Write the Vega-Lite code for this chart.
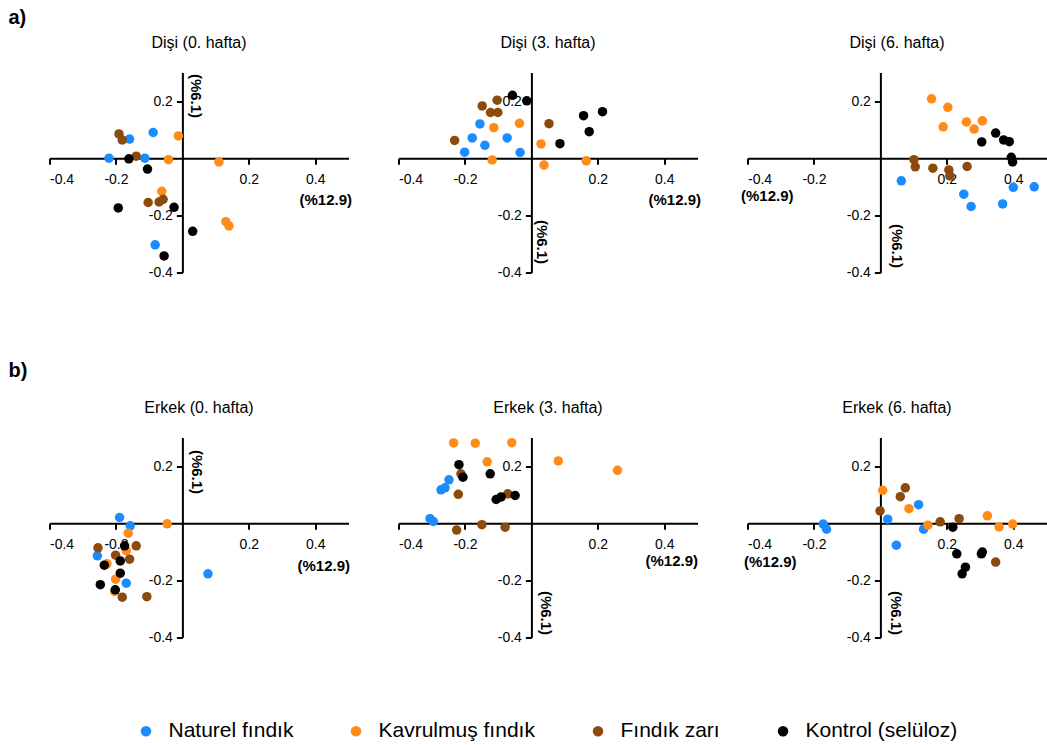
{
  "$schema": "https://vega.github.io/schema/vega-lite/v6.json",
  "padding": {"left": 8.5, "top": 7.5, "right": 0, "bottom": 0},
  "bounds": "flush",
  "spacing": 365,
  "datasets": {
    "pca": [
      {"panel": "Dişi (0. hafta)", "group": "Naturel fındık", "pc1": -0.221, "pc2": 0.0},
      {"panel": "Dişi (0. hafta)", "group": "Naturel fındık", "pc1": -0.159, "pc2": 0.067},
      {"panel": "Dişi (0. hafta)", "group": "Naturel fındık", "pc1": -0.088, "pc2": 0.09},
      {"panel": "Dişi (0. hafta)", "group": "Naturel fındık", "pc1": -0.113, "pc2": 0.0},
      {"panel": "Dişi (0. hafta)", "group": "Naturel fındık", "pc1": -0.082, "pc2": -0.303},
      {"panel": "Dişi (0. hafta)", "group": "Kavrulmuş fındık", "pc1": -0.012, "pc2": 0.078},
      {"panel": "Dişi (0. hafta)", "group": "Kavrulmuş fındık", "pc1": -0.042, "pc2": -0.005},
      {"panel": "Dişi (0. hafta)", "group": "Kavrulmuş fındık", "pc1": 0.11, "pc2": -0.013},
      {"panel": "Dişi (0. hafta)", "group": "Kavrulmuş fındık", "pc1": -0.062, "pc2": -0.116},
      {"panel": "Dişi (0. hafta)", "group": "Kavrulmuş fındık", "pc1": 0.131, "pc2": -0.222},
      {"panel": "Dişi (0. hafta)", "group": "Kavrulmuş fındık", "pc1": 0.14, "pc2": -0.237},
      {"panel": "Dişi (0. hafta)", "group": "Fındık zarı", "pc1": -0.191, "pc2": 0.085},
      {"panel": "Dişi (0. hafta)", "group": "Fındık zarı", "pc1": -0.181, "pc2": 0.064},
      {"panel": "Dişi (0. hafta)", "group": "Fındık zarı", "pc1": -0.139, "pc2": 0.007},
      {"panel": "Dişi (0. hafta)", "group": "Fındık zarı", "pc1": -0.103, "pc2": -0.155},
      {"panel": "Dişi (0. hafta)", "group": "Fındık zarı", "pc1": -0.07, "pc2": -0.153},
      {"panel": "Dişi (0. hafta)", "group": "Fındık zarı", "pc1": -0.058, "pc2": -0.144},
      {"panel": "Dişi (0. hafta)", "group": "Kontrol (selüloz)", "pc1": -0.161, "pc2": -0.002},
      {"panel": "Dişi (0. hafta)", "group": "Kontrol (selüloz)", "pc1": -0.105, "pc2": -0.038},
      {"panel": "Dişi (0. hafta)", "group": "Kontrol (selüloz)", "pc1": -0.193, "pc2": -0.174},
      {"panel": "Dişi (0. hafta)", "group": "Kontrol (selüloz)", "pc1": -0.025, "pc2": -0.172},
      {"panel": "Dişi (0. hafta)", "group": "Kontrol (selüloz)", "pc1": 0.031, "pc2": -0.256},
      {"panel": "Dişi (0. hafta)", "group": "Kontrol (selüloz)", "pc1": -0.055, "pc2": -0.342},

      {"panel": "Dişi (3. hafta)", "group": "Naturel fındık", "pc1": -0.201, "pc2": 0.021},
      {"panel": "Dişi (3. hafta)", "group": "Naturel fındık", "pc1": -0.178, "pc2": 0.071},
      {"panel": "Dişi (3. hafta)", "group": "Naturel fındık", "pc1": -0.155, "pc2": 0.12},
      {"panel": "Dişi (3. hafta)", "group": "Naturel fındık", "pc1": -0.14, "pc2": 0.045},
      {"panel": "Dişi (3. hafta)", "group": "Naturel fındık", "pc1": -0.073, "pc2": 0.071},
      {"panel": "Dişi (3. hafta)", "group": "Naturel fındık", "pc1": -0.034, "pc2": 0.02},
      {"panel": "Dişi (3. hafta)", "group": "Kavrulmuş fındık", "pc1": -0.113, "pc2": 0.107},
      {"panel": "Dişi (3. hafta)", "group": "Kavrulmuş fındık", "pc1": -0.118, "pc2": -0.006},
      {"panel": "Dişi (3. hafta)", "group": "Kavrulmuş fındık", "pc1": -0.036, "pc2": 0.122},
      {"panel": "Dişi (3. hafta)", "group": "Kavrulmuş fındık", "pc1": 0.029, "pc2": 0.05},
      {"panel": "Dişi (3. hafta)", "group": "Kavrulmuş fındık", "pc1": 0.038, "pc2": -0.024},
      {"panel": "Dişi (3. hafta)", "group": "Kavrulmuş fındık", "pc1": 0.165, "pc2": -0.009},
      {"panel": "Dişi (3. hafta)", "group": "Fındık zarı", "pc1": -0.231, "pc2": 0.062},
      {"panel": "Dişi (3. hafta)", "group": "Fındık zarı", "pc1": -0.148, "pc2": 0.183},
      {"panel": "Dişi (3. hafta)", "group": "Fındık zarı", "pc1": -0.123, "pc2": 0.16},
      {"panel": "Dişi (3. hafta)", "group": "Fındık zarı", "pc1": -0.101, "pc2": 0.16},
      {"panel": "Dişi (3. hafta)", "group": "Fındık zarı", "pc1": -0.103, "pc2": 0.203},
      {"panel": "Dişi (3. hafta)", "group": "Fındık zarı", "pc1": 0.053, "pc2": 0.121},
      {"panel": "Dişi (3. hafta)", "group": "Kontrol (selüloz)", "pc1": -0.057, "pc2": 0.22},
      {"panel": "Dişi (3. hafta)", "group": "Kontrol (selüloz)", "pc1": -0.014, "pc2": 0.201},
      {"panel": "Dişi (3. hafta)", "group": "Kontrol (selüloz)", "pc1": 0.086, "pc2": 0.051},
      {"panel": "Dişi (3. hafta)", "group": "Kontrol (selüloz)", "pc1": 0.157, "pc2": 0.149},
      {"panel": "Dişi (3. hafta)", "group": "Kontrol (selüloz)", "pc1": 0.174, "pc2": 0.093},
      {"panel": "Dişi (3. hafta)", "group": "Kontrol (selüloz)", "pc1": 0.214, "pc2": 0.163},

      {"panel": "Dişi (6. hafta)", "group": "Naturel fındık", "pc1": 0.063, "pc2": -0.079},
      {"panel": "Dişi (6. hafta)", "group": "Naturel fındık", "pc1": 0.251, "pc2": -0.126},
      {"panel": "Dişi (6. hafta)", "group": "Naturel fındık", "pc1": 0.273, "pc2": -0.169},
      {"panel": "Dişi (6. hafta)", "group": "Naturel fındık", "pc1": 0.368, "pc2": -0.16},
      {"panel": "Dişi (6. hafta)", "group": "Naturel fındık", "pc1": 0.4, "pc2": -0.102},
      {"panel": "Dişi (6. hafta)", "group": "Naturel fındık", "pc1": 0.463, "pc2": -0.1},
      {"panel": "Dişi (6. hafta)", "group": "Kavrulmuş fındık", "pc1": 0.154, "pc2": 0.208},
      {"panel": "Dişi (6. hafta)", "group": "Kavrulmuş fındık", "pc1": 0.203, "pc2": 0.178},
      {"panel": "Dişi (6. hafta)", "group": "Kavrulmuş fındık", "pc1": 0.189, "pc2": 0.11},
      {"panel": "Dişi (6. hafta)", "group": "Kavrulmuş fındık", "pc1": 0.259, "pc2": 0.127},
      {"panel": "Dişi (6. hafta)", "group": "Kavrulmuş fındık", "pc1": 0.282, "pc2": 0.102},
      {"panel": "Dişi (6. hafta)", "group": "Kavrulmuş fındık", "pc1": 0.307, "pc2": 0.131},
      {"panel": "Dişi (6. hafta)", "group": "Fındık zarı", "pc1": 0.101, "pc2": -0.005},
      {"panel": "Dişi (6. hafta)", "group": "Fındık zarı", "pc1": 0.105, "pc2": -0.03},
      {"panel": "Dişi (6. hafta)", "group": "Fındık zarı", "pc1": 0.158, "pc2": -0.035},
      {"panel": "Dişi (6. hafta)", "group": "Fındık zarı", "pc1": 0.206, "pc2": -0.041},
      {"panel": "Dişi (6. hafta)", "group": "Fındık zarı", "pc1": 0.209, "pc2": -0.062},
      {"panel": "Dişi (6. hafta)", "group": "Fındık zarı", "pc1": 0.261, "pc2": -0.029},
      {"panel": "Dişi (6. hafta)", "group": "Kontrol (selüloz)", "pc1": 0.305, "pc2": 0.057},
      {"panel": "Dişi (6. hafta)", "group": "Kontrol (selüloz)", "pc1": 0.347, "pc2": 0.088},
      {"panel": "Dişi (6. hafta)", "group": "Kontrol (selüloz)", "pc1": 0.371, "pc2": 0.064},
      {"panel": "Dişi (6. hafta)", "group": "Kontrol (selüloz)", "pc1": 0.388, "pc2": 0.058},
      {"panel": "Dişi (6. hafta)", "group": "Kontrol (selüloz)", "pc1": 0.394, "pc2": 0.003},
      {"panel": "Dişi (6. hafta)", "group": "Kontrol (selüloz)", "pc1": 0.398, "pc2": -0.013},

      {"panel": "Erkek (0. hafta)", "group": "Naturel fındık", "pc1": -0.189, "pc2": 0.02},
      {"panel": "Erkek (0. hafta)", "group": "Naturel fındık", "pc1": -0.157, "pc2": -0.009},
      {"panel": "Erkek (0. hafta)", "group": "Naturel fındık", "pc1": -0.256, "pc2": -0.114},
      {"panel": "Erkek (0. hafta)", "group": "Naturel fındık", "pc1": -0.169, "pc2": -0.21},
      {"panel": "Erkek (0. hafta)", "group": "Naturel fındık", "pc1": 0.077, "pc2": -0.177},
      {"panel": "Erkek (0. hafta)", "group": "Kavrulmuş fındık", "pc1": -0.046, "pc2": -0.002},
      {"panel": "Erkek (0. hafta)", "group": "Kavrulmuş fındık", "pc1": -0.163, "pc2": -0.035},
      {"panel": "Erkek (0. hafta)", "group": "Kavrulmuş fındık", "pc1": -0.169, "pc2": -0.096},
      {"panel": "Erkek (0. hafta)", "group": "Kavrulmuş fındık", "pc1": -0.227, "pc2": -0.142},
      {"panel": "Erkek (0. hafta)", "group": "Kavrulmuş fındık", "pc1": -0.201, "pc2": -0.196},
      {"panel": "Erkek (0. hafta)", "group": "Kavrulmuş fındık", "pc1": -0.204, "pc2": -0.239},
      {"panel": "Erkek (0. hafta)", "group": "Fındık zarı", "pc1": -0.254, "pc2": -0.086},
      {"panel": "Erkek (0. hafta)", "group": "Fındık zarı", "pc1": -0.139, "pc2": -0.079},
      {"panel": "Erkek (0. hafta)", "group": "Fındık zarı", "pc1": -0.201, "pc2": -0.112},
      {"panel": "Erkek (0. hafta)", "group": "Fındık zarı", "pc1": -0.159, "pc2": -0.126},
      {"panel": "Erkek (0. hafta)", "group": "Fındık zarı", "pc1": -0.181, "pc2": -0.259},
      {"panel": "Erkek (0. hafta)", "group": "Fındık zarı", "pc1": -0.107, "pc2": -0.257},
      {"panel": "Erkek (0. hafta)", "group": "Kontrol (selüloz)", "pc1": -0.174, "pc2": -0.079},
      {"panel": "Erkek (0. hafta)", "group": "Kontrol (selüloz)", "pc1": -0.187, "pc2": -0.132},
      {"panel": "Erkek (0. hafta)", "group": "Kontrol (selüloz)", "pc1": -0.235, "pc2": -0.147},
      {"panel": "Erkek (0. hafta)", "group": "Kontrol (selüloz)", "pc1": -0.187, "pc2": -0.175},
      {"panel": "Erkek (0. hafta)", "group": "Kontrol (selüloz)", "pc1": -0.247, "pc2": -0.215},
      {"panel": "Erkek (0. hafta)", "group": "Kontrol (selüloz)", "pc1": -0.202, "pc2": -0.233},

      {"panel": "Erkek (3. hafta)", "group": "Naturel fındık", "pc1": -0.248, "pc2": 0.152},
      {"panel": "Erkek (3. hafta)", "group": "Naturel fındık", "pc1": -0.26, "pc2": 0.124},
      {"panel": "Erkek (3. hafta)", "group": "Naturel fındık", "pc1": -0.272, "pc2": 0.117},
      {"panel": "Erkek (3. hafta)", "group": "Naturel fındık", "pc1": -0.305, "pc2": 0.016},
      {"panel": "Erkek (3. hafta)", "group": "Naturel fındık", "pc1": -0.295, "pc2": 0.006},
      {"panel": "Erkek (3. hafta)", "group": "Kavrulmuş fındık", "pc1": -0.234, "pc2": 0.281},
      {"panel": "Erkek (3. hafta)", "group": "Kavrulmuş fındık", "pc1": -0.169, "pc2": 0.28},
      {"panel": "Erkek (3. hafta)", "group": "Kavrulmuş fındık", "pc1": -0.059, "pc2": 0.282},
      {"panel": "Erkek (3. hafta)", "group": "Kavrulmuş fındık", "pc1": -0.133, "pc2": 0.215},
      {"panel": "Erkek (3. hafta)", "group": "Kavrulmuş fındık", "pc1": 0.081, "pc2": 0.218},
      {"panel": "Erkek (3. hafta)", "group": "Kavrulmuş fındık", "pc1": 0.259, "pc2": 0.185},
      {"panel": "Erkek (3. hafta)", "group": "Fındık zarı", "pc1": -0.212, "pc2": 0.173},
      {"panel": "Erkek (3. hafta)", "group": "Fındık zarı", "pc1": -0.22, "pc2": 0.101},
      {"panel": "Erkek (3. hafta)", "group": "Fındık zarı", "pc1": -0.071, "pc2": 0.103},
      {"panel": "Erkek (3. hafta)", "group": "Fındık zarı", "pc1": -0.149, "pc2": -0.005},
      {"panel": "Erkek (3. hafta)", "group": "Fındık zarı", "pc1": -0.079, "pc2": -0.014},
      {"panel": "Erkek (3. hafta)", "group": "Fındık zarı", "pc1": -0.225, "pc2": -0.024},
      {"panel": "Erkek (3. hafta)", "group": "Kontrol (selüloz)", "pc1": -0.218, "pc2": 0.205},
      {"panel": "Erkek (3. hafta)", "group": "Kontrol (selüloz)", "pc1": -0.206, "pc2": 0.161},
      {"panel": "Erkek (3. hafta)", "group": "Kontrol (selüloz)", "pc1": -0.124, "pc2": 0.173},
      {"panel": "Erkek (3. hafta)", "group": "Kontrol (selüloz)", "pc1": -0.106, "pc2": 0.083},
      {"panel": "Erkek (3. hafta)", "group": "Kontrol (selüloz)", "pc1": -0.091, "pc2": 0.092},
      {"panel": "Erkek (3. hafta)", "group": "Kontrol (selüloz)", "pc1": -0.049, "pc2": 0.097},

      {"panel": "Erkek (6. hafta)", "group": "Naturel fındık", "pc1": -0.172, "pc2": -0.003},
      {"panel": "Erkek (6. hafta)", "group": "Naturel fındık", "pc1": -0.162, "pc2": -0.021},
      {"panel": "Erkek (6. hafta)", "group": "Naturel fındık", "pc1": 0.022, "pc2": 0.014},
      {"panel": "Erkek (6. hafta)", "group": "Naturel fındık", "pc1": 0.048, "pc2": -0.077},
      {"panel": "Erkek (6. hafta)", "group": "Naturel fındık", "pc1": 0.115, "pc2": 0.065},
      {"panel": "Erkek (6. hafta)", "group": "Naturel fındık", "pc1": 0.13, "pc2": -0.021},
      {"panel": "Erkek (6. hafta)", "group": "Kavrulmuş fındık", "pc1": 0.007, "pc2": 0.115},
      {"panel": "Erkek (6. hafta)", "group": "Kavrulmuş fındık", "pc1": 0.086, "pc2": 0.051},
      {"panel": "Erkek (6. hafta)", "group": "Kavrulmuş fındık", "pc1": 0.143, "pc2": -0.007},
      {"panel": "Erkek (6. hafta)", "group": "Kavrulmuş fındık", "pc1": 0.322, "pc2": 0.026},
      {"panel": "Erkek (6. hafta)", "group": "Kavrulmuş fındık", "pc1": 0.357, "pc2": -0.013},
      {"panel": "Erkek (6. hafta)", "group": "Kavrulmuş fındık", "pc1": 0.398, "pc2": -0.003},
      {"panel": "Erkek (6. hafta)", "group": "Fındık zarı", "pc1": -0.001, "pc2": 0.043},
      {"panel": "Erkek (6. hafta)", "group": "Fındık zarı", "pc1": 0.06, "pc2": 0.093},
      {"panel": "Erkek (6. hafta)", "group": "Fındık zarı", "pc1": 0.075, "pc2": 0.124},
      {"panel": "Erkek (6. hafta)", "group": "Fındık zarı", "pc1": 0.18, "pc2": 0.005},
      {"panel": "Erkek (6. hafta)", "group": "Fındık zarı", "pc1": 0.237, "pc2": 0.016},
      {"panel": "Erkek (6. hafta)", "group": "Fındık zarı", "pc1": 0.347, "pc2": -0.136},
      {"panel": "Erkek (6. hafta)", "group": "Kontrol (selüloz)", "pc1": 0.218, "pc2": -0.014},
      {"panel": "Erkek (6. hafta)", "group": "Kontrol (selüloz)", "pc1": 0.23, "pc2": -0.107},
      {"panel": "Erkek (6. hafta)", "group": "Kontrol (selüloz)", "pc1": 0.256, "pc2": -0.154},
      {"panel": "Erkek (6. hafta)", "group": "Kontrol (selüloz)", "pc1": 0.246, "pc2": -0.177},
      {"panel": "Erkek (6. hafta)", "group": "Kontrol (selüloz)", "pc1": 0.304, "pc2": -0.107},
      {"panel": "Erkek (6. hafta)", "group": "Kontrol (selüloz)", "pc1": 0.307, "pc2": -0.101}
    ]
  },
  "config": {
    "font": "Liberation Sans",
    "view": {"stroke": null},
    "title": {"fontSize": 16, "fontWeight": "normal", "color": "black", "offset": 22, "anchor": "middle", "frame": "group"},
    "axis": {
      "grid": false,
      "domainColor": "black",
      "domainWidth": 2,
      "tickColor": "black",
      "tickWidth": 2,
      "tickSize": 6,
      "labelFontSize": 14,
      "labelColor": "black",
      "titleFontSize": 15,
      "titleFontWeight": "bold",
      "titleColor": "black"
    },
    "legend": {
      "orient": "none",
      "legendX": 86,
      "legendY": 648,
      "direction": "horizontal",
      "title": null,
      "labelFontSize": 21,
      "labelColor": "black",
      "symbolSize": 110,
      "symbolType": "circle",
      "symbolStrokeWidth": 0,
      "labelOffset": 12,
      "columnPadding": 52
    }
  },
  "vconcat": [
    {
      "title": {"text": "a)", "anchor": "start", "frame": "group", "fontSize": 20, "fontWeight": "bold", "dx": -41, "offset": 6.6},
      "bounds": "flush",
      "spacing": 50,
      "hconcat": [
        {
          "width": 299, "height": 200,
          "title": "Dişi (0. hafta)",
          "data": {"name": "pca"},
          "transform": [{"filter": "datum.panel === 'Dişi (0. hafta)'"}],
          "mark": {"type": "circle", "size": 90, "opacity": 1},
          "encoding": {
            "x": {"field": "pc1", "type": "quantitative", "scale": {"domain": [-0.4, 0.5], "nice": false, "zero": false},
              "axis": {"title": "(%12.9)", "offset": -114.29, "values": [-0.4, -0.2, 0.2, 0.4], "labelPadding": 8,
                "labelExpr": "datum.value < 0 ? '-' + format(-datum.value, '.1f') : format(datum.value, '.1f')",
                "titleX": 302, "titleY": 41, "titleAlign": "right", "titleBaseline": "middle"}},
            "y": {"field": "pc2", "type": "quantitative", "scale": {"domain": [-0.4, 0.3], "nice": false, "zero": false},
              "axis": {"title": "(%6.1)", "offset": -132.89, "values": [-0.4, -0.2, 0.2], "labelPadding": 4,
                "labelExpr": "datum.value < 0 ? '-' + format(-datum.value, '.1f') : format(datum.value, '.1f')",
                "titleAngle": 90, "titleX": 13, "titleY": 23, "titleAlign": "center", "titleBaseline": "middle"}},
            "color": {"field": "group", "type": "nominal",
              "scale": {"domain": ["Naturel fındık", "Kavrulmuş fındık", "Fındık zarı", "Kontrol (selüloz)"], "range": ["#1a8cff", "#ff8c1a", "#8c4a0c", "#000000"]}}
          }
        },
        {
          "width": 299, "height": 200,
          "title": "Dişi (3. hafta)",
          "data": {"name": "pca"},
          "transform": [{"filter": "datum.panel === 'Dişi (3. hafta)'"}],
          "mark": {"type": "circle", "size": 90, "opacity": 1},
          "encoding": {
            "x": {"field": "pc1", "type": "quantitative", "scale": {"domain": [-0.4, 0.5], "nice": false, "zero": false},
              "axis": {"title": "(%12.9)", "offset": -114.29, "values": [-0.4, -0.2, 0.2, 0.4], "labelPadding": 8,
                "labelExpr": "datum.value < 0 ? '-' + format(-datum.value, '.1f') : format(datum.value, '.1f')",
                "titleX": 302, "titleY": 41, "titleAlign": "right", "titleBaseline": "middle"}},
            "y": {"field": "pc2", "type": "quantitative", "scale": {"domain": [-0.4, 0.3], "nice": false, "zero": false},
              "axis": {"title": "(%6.1)", "offset": -132.89, "values": [-0.4, -0.2, 0.2], "labelPadding": 4,
                "labelExpr": "datum.value < 0 ? '-' + format(-datum.value, '.1f') : format(datum.value, '.1f')",
                "titleAngle": 90, "titleX": 10, "titleY": 169, "titleAlign": "center", "titleBaseline": "middle"}},
            "color": {"field": "group", "type": "nominal",
              "scale": {"domain": ["Naturel fındık", "Kavrulmuş fındık", "Fındık zarı", "Kontrol (selüloz)"], "range": ["#1a8cff", "#ff8c1a", "#8c4a0c", "#000000"]}}
          }
        },
        {
          "width": 299, "height": 200,
          "title": "Dişi (6. hafta)",
          "data": {"name": "pca"},
          "transform": [{"filter": "datum.panel === 'Dişi (6. hafta)'"}],
          "mark": {"type": "circle", "size": 90, "opacity": 1},
          "encoding": {
            "x": {"field": "pc1", "type": "quantitative", "scale": {"domain": [-0.4, 0.5], "nice": false, "zero": false},
              "axis": {"title": "(%12.9)", "offset": -114.29, "values": [-0.4, -0.2, 0.2, 0.4], "labelPadding": 8,
                "labelExpr": "datum.value < 0 ? '-' + format(-datum.value, '.1f') : format(datum.value, '.1f')",
                "titleX": -7, "titleY": 37, "titleAlign": "left", "titleBaseline": "middle"}},
            "y": {"field": "pc2", "type": "quantitative", "scale": {"domain": [-0.4, 0.3], "nice": false, "zero": false},
              "axis": {"title": "(%6.1)", "offset": -132.89, "values": [-0.4, -0.2, 0.2], "labelPadding": 4,
                "labelExpr": "datum.value < 0 ? '-' + format(-datum.value, '.1f') : format(datum.value, '.1f')",
                "titleAngle": 90, "titleX": 16, "titleY": 173, "titleAlign": "center", "titleBaseline": "middle"}},
            "color": {"field": "group", "type": "nominal",
              "scale": {"domain": ["Naturel fındık", "Kavrulmuş fındık", "Fındık zarı", "Kontrol (selüloz)"], "range": ["#1a8cff", "#ff8c1a", "#8c4a0c", "#000000"]}}
          }
        }
      ]
    },
    {
      "title": {"text": "b)", "anchor": "start", "frame": "group", "fontSize": 20, "fontWeight": "bold", "dx": -41, "offset": 18.6},
      "bounds": "flush",
      "spacing": 50,
      "hconcat": [
        {
          "width": 299, "height": 200,
          "title": "Erkek (0. hafta)",
          "data": {"name": "pca"},
          "transform": [{"filter": "datum.panel === 'Erkek (0. hafta)'"}],
          "mark": {"type": "circle", "size": 90, "opacity": 1},
          "encoding": {
            "x": {"field": "pc1", "type": "quantitative", "scale": {"domain": [-0.4, 0.5], "nice": false, "zero": false},
              "axis": {"title": "(%12.9)", "offset": -114.29, "values": [-0.4, -0.2, 0.2, 0.4], "labelPadding": 8,
                "labelExpr": "datum.value < 0 ? '-' + format(-datum.value, '.1f') : format(datum.value, '.1f')",
                "titleX": 300, "titleY": 42, "titleAlign": "right", "titleBaseline": "middle"}},
            "y": {"field": "pc2", "type": "quantitative", "scale": {"domain": [-0.4, 0.3], "nice": false, "zero": false},
              "axis": {"title": "(%6.1)", "offset": -132.89, "values": [-0.4, -0.2, 0.2], "labelPadding": 4,
                "labelExpr": "datum.value < 0 ? '-' + format(-datum.value, '.1f') : format(datum.value, '.1f')",
                "titleAngle": 90, "titleX": 14, "titleY": 34, "titleAlign": "center", "titleBaseline": "middle"}},
            "color": {"field": "group", "type": "nominal",
              "scale": {"domain": ["Naturel fındık", "Kavrulmuş fındık", "Fındık zarı", "Kontrol (selüloz)"], "range": ["#1a8cff", "#ff8c1a", "#8c4a0c", "#000000"]}}
          }
        },
        {
          "width": 299, "height": 200,
          "title": "Erkek (3. hafta)",
          "data": {"name": "pca"},
          "transform": [{"filter": "datum.panel === 'Erkek (3. hafta)'"}],
          "mark": {"type": "circle", "size": 90, "opacity": 1},
          "encoding": {
            "x": {"field": "pc1", "type": "quantitative", "scale": {"domain": [-0.4, 0.5], "nice": false, "zero": false},
              "axis": {"title": "(%12.9)", "offset": -114.29, "values": [-0.4, -0.2, 0.2, 0.4], "labelPadding": 8,
                "labelExpr": "datum.value < 0 ? '-' + format(-datum.value, '.1f') : format(datum.value, '.1f')",
                "titleX": 299, "titleY": 37, "titleAlign": "right", "titleBaseline": "middle"}},
            "y": {"field": "pc2", "type": "quantitative", "scale": {"domain": [-0.4, 0.3], "nice": false, "zero": false},
              "axis": {"title": "(%6.1)", "offset": -132.89, "values": [-0.4, -0.2, 0.2], "labelPadding": 4,
                "labelExpr": "datum.value < 0 ? '-' + format(-datum.value, '.1f') : format(datum.value, '.1f')",
                "titleAngle": 90, "titleX": 14, "titleY": 175, "titleAlign": "center", "titleBaseline": "middle"}},
            "color": {"field": "group", "type": "nominal",
              "scale": {"domain": ["Naturel fındık", "Kavrulmuş fındık", "Fındık zarı", "Kontrol (selüloz)"], "range": ["#1a8cff", "#ff8c1a", "#8c4a0c", "#000000"]}}
          }
        },
        {
          "width": 299, "height": 200,
          "title": "Erkek (6. hafta)",
          "data": {"name": "pca"},
          "transform": [{"filter": "datum.panel === 'Erkek (6. hafta)'"}],
          "mark": {"type": "circle", "size": 90, "opacity": 1},
          "encoding": {
            "x": {"field": "pc1", "type": "quantitative", "scale": {"domain": [-0.4, 0.5], "nice": false, "zero": false},
              "axis": {"title": "(%12.9)", "offset": -114.29, "values": [-0.4, -0.2, 0.2, 0.4], "labelPadding": 8,
                "labelExpr": "datum.value < 0 ? '-' + format(-datum.value, '.1f') : format(datum.value, '.1f')",
                "titleX": -4, "titleY": 38, "titleAlign": "left", "titleBaseline": "middle"}},
            "y": {"field": "pc2", "type": "quantitative", "scale": {"domain": [-0.4, 0.3], "nice": false, "zero": false},
              "axis": {"title": "(%6.1)", "offset": -132.89, "values": [-0.4, -0.2, 0.2], "labelPadding": 4,
                "labelExpr": "datum.value < 0 ? '-' + format(-datum.value, '.1f') : format(datum.value, '.1f')",
                "titleAngle": 90, "titleX": 15, "titleY": 175, "titleAlign": "center", "titleBaseline": "middle"}},
            "color": {"field": "group", "type": "nominal",
              "scale": {"domain": ["Naturel fındık", "Kavrulmuş fındık", "Fındık zarı", "Kontrol (selüloz)"], "range": ["#1a8cff", "#ff8c1a", "#8c4a0c", "#000000"]}}
          }
        }
      ]
    }
  ]
}
